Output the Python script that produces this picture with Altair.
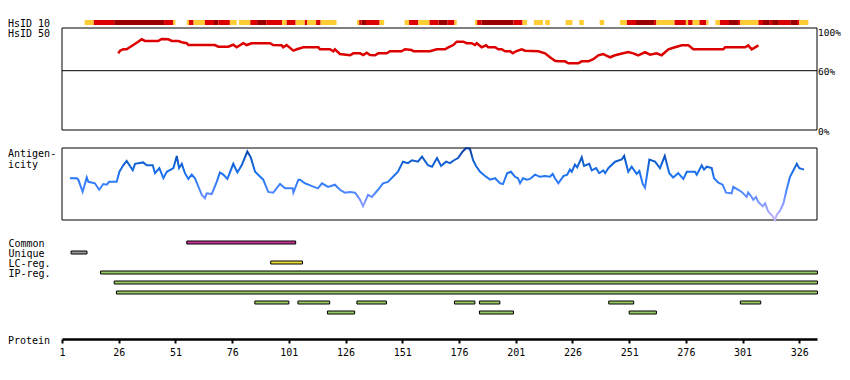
import altair as alt
import pandas as pd

FONT = "DejaVu Sans Mono"

# ---------------- data ----------------
# HsID 10 strip: segments (residue start, residue end, identity level L/M/H)
hs10_start = [11, 15, 24, 46, 50, 56, 57, 59, 64, 68, 70, 75, 79, 84, 87, 91, 98, 100, 104, 108,
              109, 113, 115, 131, 132, 133, 135, 141, 152, 154, 158, 163, 167, 171, 174, 183, 184, 186, 200, 204,
              209, 214, 223, 229, 238, 247, 250, 254, 262, 263, 271, 276, 277, 279, 282, 285, 289, 291, 295, 299,
              300, 308, 310, 313, 314, 317, 322, 325, 326]
hs10_end = [15, 24, 46, 50, 51, 57, 59, 64, 68, 70, 75, 78, 84, 87, 91, 98, 100, 104, 108, 109,
            113, 115, 122, 132, 133, 135, 141, 143, 154, 158, 163, 167, 171, 174, 175, 184, 186, 200, 204, 206,
            213, 216, 226, 231, 240, 250, 254, 262, 263, 271, 276, 277, 279, 282, 285, 286, 291, 295, 299, 300,
            308, 310, 313, 314, 317, 322, 325, 326, 330]
hs10_level = ["L", "M", "H", "M", "L", "L", "M", "L", "M", "H", "M", "L", "L", "M", "H", "M", "L", "M", "L", "M",
              "L", "M", "L", "L", "M", "H", "M", "L", "L", "M", "L", "M", "H", "M", "L", "L", "M", "H", "M", "L",
              "L", "L", "L", "L", "L", "L", "M", "H", "M", "L", "M", "L", "M", "L", "M", "L", "L", "M", "H", "M",
              "L", "M", "H", "M", "H", "M", "H", "M", "L"]

# HsID 50 identity line (residue, %)
hs50_res = [25.8, 26.6, 28.0, 29.5, 32.4, 34.6, 36.1, 37.6, 43.4, 44.9, 47.9, 49.4, 52.3, 53.8, 56.0, 56.7, 68.4, 69.9,
            74.3, 76.5, 78.0, 80.9, 82.4, 84.6, 92.7, 94.1, 97.8, 98.5, 100.0, 103.0, 104.5, 107.4, 114.0, 114.7,
            119.1, 120.6, 121.3, 123.5, 128.0, 129.4, 132.4, 133.8, 135.3, 136.8, 139.0, 140.4, 144.1, 145.6, 150.7,
            152.2, 155.1, 155.9, 163.2, 166.2, 169.8, 171.3, 173.5, 175.0, 177.9, 179.4, 181.6, 183.0, 183.8, 186.0,
            187.9, 188.9, 191.9, 193.3, 194.8, 196.3, 198.5, 199.7, 201.1, 203.6, 205.1, 211.0, 213.9, 216.1, 218.3,
            219.8, 222.7, 224.2, 228.6, 230.1, 233.0, 235.2, 237.4, 239.6, 242.6, 244.8, 247.0, 250.6, 252.8, 255.0,
            258.0, 260.2, 263.1, 265.3, 268.3, 271.2, 274.2, 277.1, 279.3, 292.5, 293.3, 302.1, 303.5, 305.0, 306.5,
            308.0]
hs50_pct = [77.6, 80.3, 81.7, 81.7, 86.0, 89.4, 91.8, 90.1, 90.1, 92.1, 91.8, 90.1, 90.1, 88.8, 87.8, 86.0, 86.0, 84.3,
            84.3, 86.3, 83.7, 87.8, 86.0, 87.8, 87.8, 86.0, 85.7, 83.7, 86.0, 80.3, 81.7, 83.7, 83.7, 81.7, 81.7, 79.7,
            81.7, 76.9, 75.6, 77.6, 77.6, 75.9, 78.2, 75.9, 75.6, 77.6, 77.6, 79.7, 79.7, 81.7, 81.0, 79.7, 79.7, 81.7,
            81.7, 83.7, 86.0, 89.4, 89.4, 87.8, 87.8, 86.0, 87.8, 83.7, 85.7, 83.7, 83.7, 81.7, 81.7, 79.7, 79.7, 77.6,
            79.7, 81.7, 80.3, 79.7, 77.6, 73.6, 70.1, 69.5, 69.5, 67.5, 67.5, 69.5, 69.5, 71.6, 75.6, 76.9, 73.6, 75.6,
            76.9, 78.9, 77.6, 75.6, 78.9, 76.2, 77.6, 75.6, 81.7, 83.7, 85.7, 85.7, 81.7, 81.7, 83.7, 83.7, 85.7, 81.7,
            83.7, 85.7]

# Antigenicity (residue, normalised score)
ag_res = [4.5, 7.5, 8.2, 10.1, 11.9, 12.6, 15.5, 17.4, 19.2, 20.7, 21.8, 25.1, 26.3, 28.0, 29.5, 32.2, 33.2, 36.8, 38.3,
          41.0, 42.0, 43.9, 45.7, 47.2, 50.1, 51.6, 52.6, 53.8, 55.2, 56.7, 58.2, 59.6, 62.6, 64.0, 64.8, 67.0, 69.2,
          70.6, 72.1, 73.9, 76.5, 78.3, 80.2, 82.7, 84.2, 86.1, 89.7, 91.9, 94.1, 97.1, 99.3, 102.7, 103.0, 105.2,
          105.9, 108.1, 111.2, 113.8, 115.6, 118.3, 121.3, 123.5, 125.7, 128.0, 130.2, 132.4, 133.7, 135.9, 137.6,
          140.3, 142.5, 144.7, 146.9, 149.1, 151.3, 153.5, 155.3, 157.9, 159.7, 162.3, 164.1, 166.3, 168.1, 170.3,
          172.0, 173.8, 175.6, 177.3, 179.1, 180.8, 182.2, 183.5, 185.3, 187.5, 189.7, 191.9, 194.1, 195.4, 197.2,
          198.9, 200.7, 202.0, 202.9, 204.2, 206.0, 207.3, 209.5, 211.7, 213.9, 216.1, 217.3, 218.3, 219.8, 222.0,
          223.7, 224.9, 225.7, 227.1, 228.1, 230.1, 231.1, 233.4, 234.5, 236.4, 237.8, 239.6, 240.4, 241.8, 244.8,
          247.7, 248.8, 250.6, 252.1, 254.3, 255.5, 257.0, 258.0, 259.9, 262.4, 264.6, 266.7, 268.7, 270.4, 272.6,
          274.9, 276.4, 280.0, 280.8, 283.0, 284.0, 285.2, 287.4, 288.4, 290.3, 292.2, 293.7, 296.2, 296.9, 299.1,
          300.6, 302.8, 303.5, 305.0, 305.7, 306.9, 307.9, 309.9, 310.9, 312.3, 314.3, 315.3, 316.0, 317.5, 319.0,
          320.4, 321.9, 324.9, 326.0, 328.1]
ag_score = [0.58, 0.58, 0.56, 0.39, 0.59, 0.53, 0.51, 0.42, 0.50, 0.49,
            0.53, 0.53, 0.67, 0.76, 0.82, 0.69, 0.78, 0.80, 0.76, 0.76,
            0.65, 0.72, 0.58, 0.67, 0.72, 0.89, 0.72, 0.78, 0.65, 0.57,
            0.63, 0.58, 0.35, 0.30, 0.37, 0.36, 0.53, 0.66, 0.63, 0.57,
            0.78, 0.66, 0.76, 0.95, 0.87, 0.67, 0.56, 0.39, 0.38, 0.50,
            0.44, 0.44, 0.38, 0.56, 0.56, 0.51, 0.47, 0.44, 0.51, 0.46,
            0.49, 0.42, 0.38, 0.39, 0.38, 0.28, 0.19, 0.35, 0.32, 0.42,
            0.51, 0.53, 0.60, 0.67, 0.81, 0.79, 0.83, 0.81, 0.88, 0.76,
            0.74, 0.86, 0.75, 0.81, 0.79, 0.83, 0.86, 0.94, 1.00, 0.99,
            0.83, 0.75, 0.67, 0.61, 0.56, 0.58, 0.51, 0.50, 0.65, 0.67,
            0.60, 0.58, 0.51, 0.58, 0.56, 0.57, 0.63, 0.60, 0.61, 0.60,
            0.64, 0.58, 0.51, 0.61, 0.63, 0.70, 0.67, 0.77, 0.73, 0.87,
            0.75, 0.78, 0.69, 0.72, 0.65, 0.69, 0.65, 0.72, 0.81, 0.84,
            0.89, 0.67, 0.74, 0.64, 0.68, 0.50, 0.45, 0.84, 0.81, 0.72,
            0.89, 0.65, 0.59, 0.65, 0.57, 0.67, 0.67, 0.63, 0.76, 0.70,
            0.74, 0.72, 0.58, 0.52, 0.49, 0.38, 0.37, 0.46, 0.42, 0.39,
            0.32, 0.38, 0.32, 0.28, 0.32, 0.25, 0.19, 0.23, 0.12, 0.05,
            0.00, 0.07, 0.13, 0.23, 0.42, 0.60, 0.78, 0.72, 0.70]

# Feature tracks
track_rows = ["Common", "Unique", "LC-reg.", "IP-reg.", "IP-reg.2", "IP-reg.3", "IP-reg.4", "IP-reg.5"]
feat_row = ["Common", "Unique", "LC-reg.", "IP-reg.", "IP-reg.2", "IP-reg.3",
            "IP-reg.4", "IP-reg.4", "IP-reg.4", "IP-reg.4", "IP-reg.4", "IP-reg.4", "IP-reg.4",
            "IP-reg.5", "IP-reg.5", "IP-reg.5"]
feat_kind = ["Common", "Unique", "LC", "IP", "IP", "IP", "IP", "IP", "IP", "IP", "IP", "IP", "IP", "IP", "IP", "IP"]
feat_start = [56, 5, 93, 18, 24, 25, 86, 105, 131, 174, 185, 242, 300, 118, 185, 251]
feat_end = [104, 12, 107, 334, 334, 334, 101, 119, 144, 183, 194, 253, 309, 130, 200, 263]

tick_values = [1, 26, 51, 76, 101, 126, 151, 176, 201, 226, 251, 276, 301, 326]

# ---------------- chart ----------------
W, H = 755, 331
x_scale = alt.Scale(domain=[1, 333.8], nice=False, zero=False)
x_axis = alt.Axis(values=tick_values, title=None, grid=False, domainWidth=2.5, domainColor="black",
                  tickColor="black", tickSize=4, tickWidth=2, labelFont=FONT, labelFontSize=10,
                  labelColor="black", labelPadding=4, labelFlush=False, labelOverlap=False)


def xenc(field):
    return alt.X(field, type="quantitative", scale=x_scale, axis=x_axis)


one = pd.DataFrame({"k": [0]})

df10 = pd.DataFrame({"start": hs10_start, "end": hs10_end, "level": hs10_level})
strip = alt.Chart(df10).mark_rect().encode(
    x=xenc("start"), x2="end",
    y=alt.value(12), y2=alt.value(17),
    color=alt.Color("level:N", scale=alt.Scale(domain=["L", "M", "H"],
                                               range=["#FFCC33", "#DD0000", "#990000"]), legend=None),
)

box50 = alt.Chart(one).mark_rect(fillOpacity=0, stroke="black", strokeWidth=1).encode(
    x=alt.value(0), x2=alt.value(W), y=alt.value(20), y2=alt.value(122))
rule60 = alt.Chart(one).mark_rule(color="black", strokeWidth=1).encode(
    x=alt.value(0), x2=alt.value(W), y=alt.value(62.7))

df50 = pd.DataFrame({"res": hs50_res, "pct": hs50_pct})
line50 = alt.Chart(df50).mark_line(color="#DD0000", strokeWidth=2.5).encode(
    x=xenc("res"),
    y=alt.Y("pct:Q", scale=alt.Scale(domain=[0, 100], range=[122, 23.2]),
            axis=alt.Axis(orient="right", values=[0, 60, 100], labelExpr="datum.value + '%'",
                          domain=False, ticks=False, tickSize=0, grid=False, title=None,
                          labelFont=FONT, labelFontSize=9.5, labelColor="black", labelPadding=0.5,
                          labelOffset=1)),
)

boxag = alt.Chart(one).mark_rect(fillOpacity=0, stroke="black", strokeWidth=1).encode(
    x=alt.value(0), x2=alt.value(W), y=alt.value(140), y2=alt.value(212))
dfag = pd.DataFrame({"res": ag_res, "score": ag_score})
grad = alt.LinearGradient(
    gradient="linear", x1=0, x2=0, y1=1, y2=0,
    stops=[alt.GradientStop(color="#C4B4FF", offset=0.0),
           alt.GradientStop(color="#8C9CFF", offset=0.2),
           alt.GradientStop(color="#4A86FF", offset=0.4),
           alt.GradientStop(color="#1E74F0", offset=0.62),
           alt.GradientStop(color="#0D5AC8", offset=0.85),
           alt.GradientStop(color="#08379A", offset=1.0)])
lineag = alt.Chart(dfag).mark_line(stroke=grad, strokeWidth=2).encode(
    x=xenc("res"),
    y=alt.Y("score:Q", scale=alt.Scale(domain=[0, 1], range=[212, 140]), axis=None),
)

dft = pd.DataFrame({"row": feat_row, "kind": feat_kind, "start": feat_start, "end": feat_end})
tracks = alt.Chart(dft).mark_rect(stroke="black", strokeWidth=1).encode(
    x=xenc("start"), x2="end",
    y=alt.Y("row:N", scale=alt.Scale(domain=track_rows, range=[229.5, 309.5], paddingInner=0.7, paddingOuter=0.35),
            axis=alt.Axis(orient="left", domain=False, ticks=False, tickSize=0, grid=False, title=None,
                          labelAlign="left", labelPadding=54, labelFont=FONT, labelFontSize=10,
                          labelColor="black", labelOffset=1,
                          labelExpr="indexof(['Common','Unique','LC-reg.','IP-reg.'], datum.value) >= 0 ? datum.value : ''")),
    color=alt.Color("kind:N", scale=alt.Scale(domain=["Common", "Unique", "LC", "IP"],
                                              range=["#CC3399", "#999999", "#EEDD33", "#99CC66"]), legend=None),
)


def label(txt, ypix):
    return alt.Chart(one).mark_text(font=FONT, fontSize=10, align="left", baseline="alphabetic",
                                    color="black", lineHeight=11).encode(
        x=alt.value(-54), y=alt.value(ypix), text=alt.value(txt))


labels = [label("HsID 10", 19), label("HsID 50", 29), label(["Antigen-", "icity"], 148.5), label("Protein", 336)]

chart = alt.layer(strip, box50, rule60, line50, boxag, lineag, tracks, *labels).resolve_scale(
    y="independent", color="independent"
).properties(
    width=W, height=H, autosize="none",
    padding={"left": 54, "top": 0, "right": 25, "bottom": 25},
    background="white",
).configure_view(stroke=None)

chart.save("out.html", embed_options={"renderer": "svg", "actions": False})
